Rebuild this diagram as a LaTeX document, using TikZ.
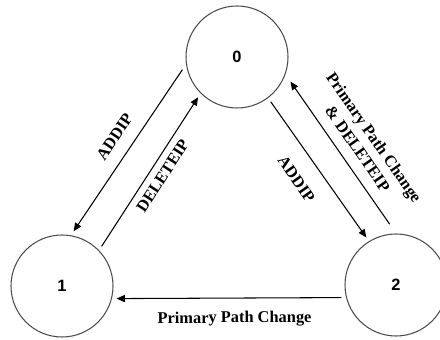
\documentclass[tikz,border=0pt]{standalone}
\usepackage{fontspec}
\setmainfont{Liberation Serif}
\newfontfamily\statefont{Liberation Sans}
\usetikzlibrary{arrows.meta}

\begin{document}
\begin{tikzpicture}[
    state/.style={circle, draw=black!70, line width=0.9pt, minimum size=3.06cm, inner sep=0pt, outer sep=0.15cm, font=\statefont\bfseries\fontsize{14}{16}\selectfont},
    trans/.style={-{Triangle[length=7pt,width=6pt]}, line width=0.9pt},
    lbl/.style={font=\bfseries\fontsize{14}{17}\selectfont, sloped, inner sep=2pt, align=center}
]
    \useasboundingbox (0,0) rectangle (13.2,10.2);

    % States
    \node[state] (s0) at (7.11,8.49) {0};
    \node[state] (s1) at (1.86,1.62) {1};
    \node[state] (s2) at (11.88,1.65) {2};

    % Transitions between 0 and 1
    \draw[trans] (s0.193) -- node[lbl, pos=0.48, above=9pt] {ADDIP} (s1.78);
    \draw[trans] (s1.45) -- node[lbl, pos=0.52, below=4pt] {DELETEIP} (s0.226);

    % Transitions between 0 and 2
    \draw[trans] (s0.307) -- node[lbl, pos=0.47, below=13pt] {ADDIP} (s2.122);
    \draw[trans, shorten <=0.18cm, shorten >=0.1cm] (s2.93) -- node[lbl, pos=0.47, above=7pt] {Primary Path Change\\\& DELETEIP} (s0.337);

    % Transition from 2 to 1
    \draw[trans] (s2.193) -- node[lbl, pos=0.476, below=9pt] {Primary Path Change} (s1.347);
\end{tikzpicture}
\end{document}
